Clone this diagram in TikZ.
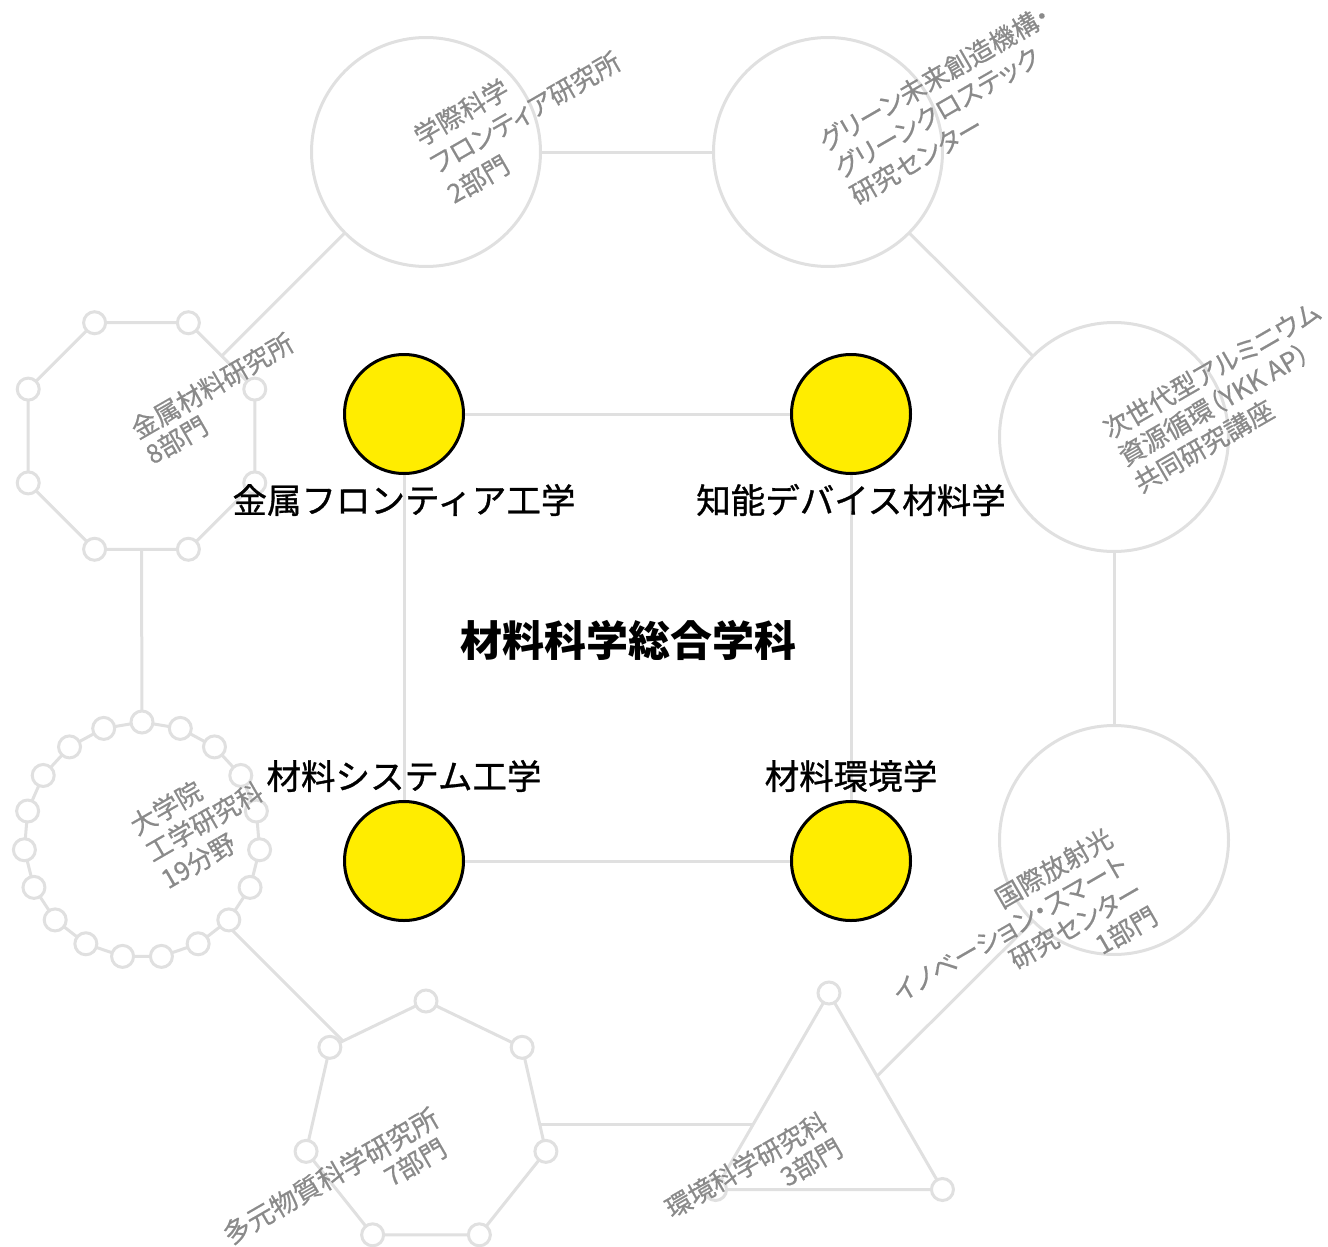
\documentclass[tikz,border=0pt]{standalone}
\usepackage{fontspec}
\setmainfont{Noto Sans CJK JP}
\newfontfamily\graylab[RawFeature=+palt,FakeBold=0.5]{Noto Sans CJK JP}
\newfontfamily\mainlab[FakeBold=0.9]{Noto Sans CJK JP}
\usetikzlibrary{backgrounds}
\definecolor{linegray}{RGB}{224,224,224}
\definecolor{txtgray}{RGB}{138,138,138}
\definecolor{dotyellow}{RGB}{255,237,0}
\begin{document}
\begin{tikzpicture}[x=1pt,y=-1pt,
  link/.style={draw=linegray,line width=3pt},
  ring/.style={circle,draw=linegray,line width=3pt,fill=white,minimum size=229pt,inner sep=0pt},
  poly/.style={draw=linegray,line width=3pt,fill=white,line join=round},
  vtx/.style={circle,draw=linegray,line width=3pt,fill=white,minimum size=22pt,inner sep=0pt},
  dot/.style={circle,draw=black,line width=3pt,fill=dotyellow,minimum size=119pt,inner sep=0pt},
  major/.style={font=\mainlab\fontsize{34.5}{40}\selectfont,inner sep=0pt},
  titlelabel/.style={font=\fontsize{42}{50}\selectfont\bfseries,inner sep=0pt},
  gl/.style={text=txtgray,font=\graylab\fontsize{26}{30}\selectfont,inner sep=0pt},
  glbig/.style={text=txtgray,font=\graylab\fontsize{27}{30}\selectfont,inner sep=0pt},
]
\useasboundingbox (0,0) rectangle (1328,1247);

% outer ring shapes
\node[ring] (gakusai) at (426,152) {};
\node[ring] (green) at (828,152) {};
\node[ring] (jisedai) at (1114,437) {};
\node[ring] (kokusai) at (1114,840) {};

\coordinate (kinzoku) at (141.5,436);
\coordinate (daigakuin) at (142,840);
\coordinate (tagen) at (426,1124);
\coordinate (kankyo) at (829,1124);

% octagon
\begin{scope}[shift={(kinzoku)}]
  \draw[poly] (-67.5:122.6) \foreach \k in {1,...,7}{ -- ({-67.5+45*\k}:122.6)} -- cycle;
  \foreach \k in {0,...,7} \node[vtx] (kv\k) at ({-67.5+45*\k}:122.6) {};
\end{scope}
% 19-gon
\begin{scope}[shift={(daigakuin)}]
  \draw[poly] (-90:118) \foreach \k in {1,...,18}{ -- ({-90+360/19*\k}:118)} -- cycle;
  \foreach \k in {0,...,18} \node[vtx] (dv\k) at ({-90+360/19*\k}:118) {};
\end{scope}
% heptagon
\begin{scope}[shift={(tagen)}]
  \draw[poly] (-90:123) \foreach \k in {1,...,6}{ -- ({-90+360/7*\k}:123)} -- cycle;
  \foreach \k in {0,...,6} \node[vtx] (hv\k) at ({-90+360/7*\k}:123) {};
\end{scope}
% triangle
\begin{scope}[shift={(kankyo)}]
  \draw[poly] (-90:131) -- (30:131) -- (150:131) -- cycle;
  \foreach \k in {0,1,2} \node[vtx] (tv\k) at ({-90+120*\k}:131) {};
\end{scope}

% inner yellow dots
\node[dot] (d1) at (404,414) {};
\node[dot] (d2) at (851,414) {};
\node[dot] (d3) at (404,861) {};
\node[dot] (d4) at (851,861) {};

% connectors
\begin{pgfonlayer}{background}
  \draw[link] (kinzoku) -- (gakusai.center);
  \draw[link] (gakusai.center) -- (green.center);
  \draw[link] (green.center) -- (jisedai.center);
  \draw[link] (jisedai.center) -- (kokusai.center);
  \draw[link] (kokusai.center) -- (kankyo);
  \draw[link] (kankyo) -- (tagen);
  \draw[link] (tagen) -- (daigakuin);
  \draw[link] (daigakuin) -- (kinzoku);
  \draw[link] (d1.center) -- (d2.center);
  \draw[link] (d1.center) -- (d3.center);
  \draw[link] (d2.center) -- (d4.center);
  \draw[link] (d3.center) -- (d4.center);
\end{pgfonlayer}

% main labels
\node[major] (m1) at (404,500) {金属フロンティア工学};
\node[major] (m2) at (851,500) {知能デバイス材料学};
\node[major] (m3) at (404,776) {材料システム工学};
\node[major] (m4) at (851,776) {材料環境学};
\node[titlelabel] (ttl) at (628,640) {材料科学総合学科};

% grey rotated labels
\begin{scope}[shift={(421,147)},rotate=30,transform shape]
  \node[gl,anchor=base west] (g1a) at (0,0) {学際科学};
  \node[gl,anchor=base west] (g1b) at (0,32) {フロンティア研究所};
  \node[gl,anchor=base west] (g1c) at (0,66) {2部門};
\end{scope}
\begin{scope}[shift={(826,152)},rotate=30,transform shape]
  \node[gl,anchor=base west] (g2a) at (0,0) {グリーン未来創造機構・};
  \node[gl,anchor=base west] (g2b) at (0,31) {グリーンクロステック};
  \node[gl,anchor=base west] (g2c) at (0,62) {研究センター};
\end{scope}
\begin{scope}[shift={(1110,440)},rotate=30,transform shape]
  \node[gl,anchor=base west] (g3a) at (0,0) {次世代型アルミニウム};
  \node[gl,anchor=base west] (g3b) at (0,31) {資源循環（YKK AP）};
  \node[gl,anchor=base west] (g3c) at (0,62) {共同研究講座};
\end{scope}
\begin{scope}[shift={(138,440)},rotate=30,transform shape]
  \node[gl,anchor=base west] (g4a) at (0,0) {金属材料研究所};
  \node[gl,anchor=base west] (g4b) at (0,29) {8部門};
\end{scope}
\begin{scope}[shift={(137,836)},rotate=30,transform shape]
  \node[gl,anchor=base west] (g5a) at (0,0) {大学院};
  \node[gl,anchor=base west] (g5b) at (0,31) {工学研究科};
  \node[gl,anchor=base west] (g5c) at (0,62) {19分野};
\end{scope}
\begin{scope}[shift={(1115,844)},rotate=30,transform shape]
  \node[gl,anchor=base east] (g6a) at (0,0) {国際放射光};
  \node[gl,anchor=base east] (g6b) at (0,30) {イノベーション・スマート};
  \node[gl,anchor=base east] (g6c) at (0,60) {研究センター};
  \node[gl,anchor=base east] (g6d) at (0,90) {1部門};
\end{scope}
\begin{scope}[shift={(441,1124)},rotate=30,transform shape]
  \node[glbig,anchor=base east] (g8a) at (0,0) {多元物質科学研究所};
  \node[gl,anchor=base east] (g8b) at (-8,30) {7部門};
\end{scope}
\begin{scope}[shift={(830,1128)},rotate=30,transform shape]
  \node[gl,anchor=base east] (g7a) at (0,0) {環境科学研究科};
  \node[gl,anchor=base east] (g7b) at (0,30) {3部門};
\end{scope}
\end{tikzpicture}
\end{document}
